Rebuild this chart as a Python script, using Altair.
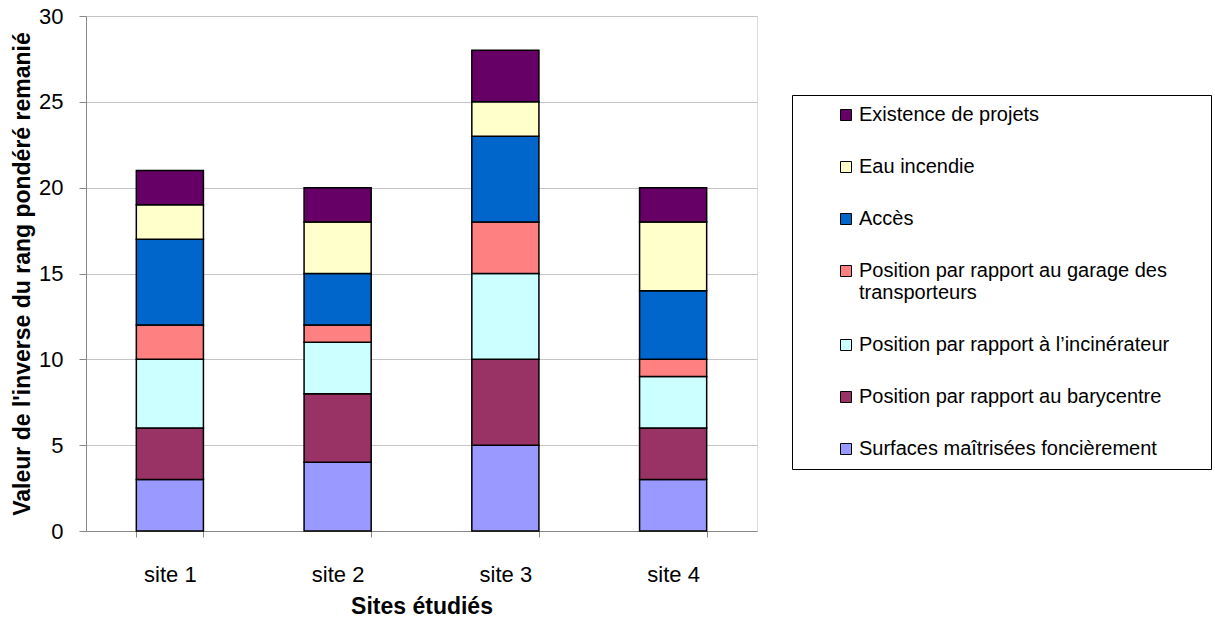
import altair as alt
import pandas as pd

# Sites and criteria (stacking order: first criterion at the bottom of each bar)
sites = ["site 1", "site 2", "site 3", "site 4"]
criteria = [
    "Surfaces maîtrisées foncièrement",
    "Position par rapport au barycentre",
    "Position par rapport à l’incinérateur",
    "Position par rapport au garage des transporteurs",
    "Accès",
    "Eau incendie",
    "Existence de projets",
]
colors = ["#9999FF", "#993366", "#CCFFFF", "#FF8080", "#0066CC", "#FFFFCC", "#660066"]

# Score of each criterion for site 1..4
surfaces = [3, 4, 5, 3]
barycentre = [3, 4, 5, 3]
incinerateur = [4, 3, 5, 3]
garage = [2, 1, 3, 1]
acces = [5, 3, 5, 4]
eau = [2, 3, 2, 4]
projets = [2, 2, 3, 2]

series = [surfaces, barycentre, incinerateur, garage, acces, eau, projets]

rows = []
for rank, (crit, vals) in enumerate(zip(criteria, series)):
    for site, v in zip(sites, vals):
        rows.append({"site": site, "critere": crit, "valeur": v, "rang": rank})
df = pd.DataFrame(rows)

FONT = "Liberation Sans"

# Legend lists the top segment first
legend_domain = criteria[::-1]
legend_range = colors[::-1]

bars = alt.Chart(df).mark_bar(stroke="black", strokeWidth=1.5).encode(
    x=alt.X(
        "site:N",
        sort=sites,
        scale=alt.Scale(paddingInner=0.6, paddingOuter=0.3),
        axis=alt.Axis(
            title="Sites étudiés",
            labelAngle=0,
            tickBand="extent",
            tickSize=6,
            labelFontSize=22,
            labelPadding=27,
            titleFontSize=23,
            titlePadding=10,
            grid=False,
        ),
    ),
    y=alt.Y(
        "valeur:Q",
        stack="zero",
        scale=alt.Scale(domain=[0, 30], nice=False),
        axis=alt.Axis(
            title="Valeur de l'inverse du rang pondéré remanié",
            values=[0, 5, 10, 15, 20, 25, 30],
            tickSize=7,
            labelFontSize=22,
            labelPadding=16,
            titleFontSize=23,
            titlePadding=4,
            grid=True,
            gridColor="#c4c4c4",
            gridWidth=1,
        ),
    ),
    color=alt.Color(
        "critere:N",
        scale=alt.Scale(domain=legend_domain, range=legend_range),
        legend=alt.Legend(
            title=" ",
            titleOrient="right",
            titlePadding=32,
            titleFontSize=10,
            orient="none",
            legendX=706,
            legendY=79,
            padding=10,
            strokeColor="black",
            fillColor="white",
            symbolType="square",
            symbolSize=121,
            symbolStrokeColor="black",
            symbolStrokeWidth=1,
            symbolOffset=34,
            labelOffset=3,
            labelFontSize=20,
            labelFont=FONT,
            labelColor="black",
            labelLimit=600,
            rowPadding=32,
            labelExpr="datum.label == 'Position par rapport au garage des transporteurs' ? ['Position par rapport au garage des', 'transporteurs'] : datum.label",
        ),
    ),
    order=alt.Order("rang:Q", sort="ascending"),
)

chart = (
    bars.properties(width=671, height=515, padding={"left": 11, "top": 5, "right": 0, "bottom": 0})
    .configure_view(stroke="#a0a0a0", strokeWidth=1.5)
    .configure_axis(
        labelFont=FONT,
        titleFont=FONT,
        labelColor="black",
        titleColor="black",
        titleFontWeight="bold",
        domainColor="black",
        domainWidth=1.5,
        tickColor="black",
        tickWidth=1,
    )
    .configure(background="white")
)

chart.save("out.html", embed_options={"renderer": "svg", "actions": False})
